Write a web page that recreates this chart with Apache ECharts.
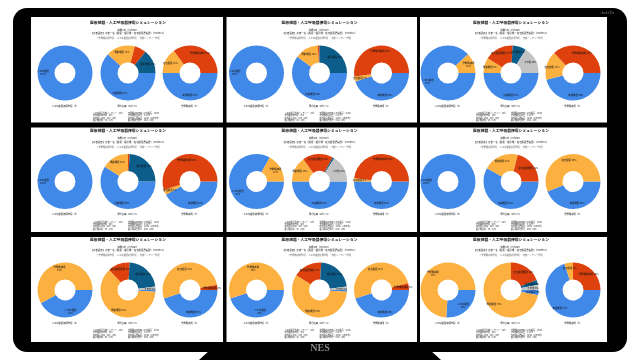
<!DOCTYPE html>
<html><head><meta charset="utf-8">
<script src="https://cdn.jsdelivr.net/npm/echarts@6/dist/echarts.min.js"></script>
<style>html,body{margin:0;padding:0;background:#fff}#c{width:640px;height:360px}</style>
</head><body><div id="c"></div>
<script>
// ---- data ----
const panelTitle = '医療機器・人工呼吸器停電シミュレーション';
const subTitle1 = '停電1日（72hour）';
const subTitle2 = '【患者設定】患者一名（酸素・吸引機・在宅酸素濃縮器）（Mode=1）';
const subTitle3 = '※発電機使用時間 ／ 人工呼吸器使用時間 ／ 外部バッテリー時間';
const donut1Names = ['人工呼吸器', '発電機使用'];
const donut2Names = ['呼吸機器', '電動機器', '在宅酸素機器', '吸引機器', 'その他'];
const donut3Names = ['稼働機器', '在宅酸素', '発電機能使用'];
const captions = ['人工呼吸器使用時間（h）', '電力比率（Wh / %）', '発電機使用（h）'];
const footLeft = ['人工呼吸器外部バッテリー：24h', '発電機使用時間：48h', '在宅酸素使用：24h（1日）', '吸引機使用：3h（1日）'];
const footRight = ['発電機使用時の人工呼吸器：100W', '発電機燃料消費：0.6L/h', '在宅酸素濃縮器：120W（1日平均）', '吸引機消費電力：60W（1日）'];
const donut1Values = [[100,0],[100,0],[88,12],[100,0],[83,17],[100,0],[42,58],[45,55],[26,74]];
const donut2Values = [
  [62,17,7,14,0],
  [60,14,1,25,0],
  [50,9,17,8,16],
  [59,16,1,24,0],
  [50,15,18,1,16],
  [58,21,21,0,0],
  [1,62,13,22,2],
  [1,58,17,22,2],
  [3,72,19,3,3]
];
const donut3Values = [[50,15,35],[45,3,52],[46,17,37],[42,3,55],[50,2,48],[44,56,0],[45,52,3],[45,51,4],[70,5,25]];

// ---- styling / layout ----
const C = ['#4189E9', '#FCB040', '#DE410E', '#0C5D8A', '#C3C3C3'];
const FONT = '"Noto Sans CJK JP", "Noto Sans", sans-serif';
const colsBox = [[31,223],[226.5,417],[420,607]];
const rowsBox = [[17,122.5],[127.5,232],[237,342]];
const originX = [31, 222.5, 414];
const originY = [17, 125.5, 234];
const donutRelX = [34, 97, 159];
const donutRelY = 56;

const graphic = [];
graphic.push({type:'rect', z:0, shape:{x:13,y:8,width:614,height:344,r:14}, style:{fill:'#000'}});
graphic.push({type:'polygon', z:0, shape:{points:[[210,350],[430,350],[441,360],[199,360]]}, style:{fill:'#000'}});
graphic.push({type:'text', z:1, style:{text:'NES', x:320, y:348, textAlign:'center', textVerticalAlign:'middle', font:'bold 10px "Liberation Serif", serif', fill:'#8a8a8a'}});
graphic.push({type:'text', z:1, style:{text:'AnkiTa', x:614, y:13, textAlign:'right', textVerticalAlign:'middle', font:'italic 5px "Liberation Serif", serif', fill:'#777'}});

const series = [];
function pieSeries(cx, cy, names, vals, fmt) {
  const data = [];
  vals.forEach((v, i) => {
    if (v > 0) data.push({name: names[i], value: v, itemStyle: {color: C[i]}, label: {show: v >= 2}});
  });
  return {
    type: 'pie', z: 3, center: [cx, cy], radius: [10.5, 27.5],
    startAngle: 0, clockwise: true, silent: true, animation: false,
    label: {position: 'inside', fontSize: 2.4, color: '#111', fontFamily: FONT, lineHeight: 3, formatter: fmt},
    labelLine: {show: false},
    data: data
  };
}

for (let r = 0; r < 3; r++) {
  for (let c = 0; c < 3; c++) {
    const p = r * 3 + c;
    graphic.push({type:'rect', z:1, shape:{x:colsBox[c][0], y:rowsBox[r][0], width:colsBox[c][1]-colsBox[c][0], height:rowsBox[r][1]-rowsBox[r][0]}, style:{fill:'#fff'}});
    const ox = originX[c], oy = originY[r];
    const tx = ox + 97;
    graphic.push({type:'text', z:2, style:{text:panelTitle, x:tx, y:oy+5.3, textAlign:'center', textVerticalAlign:'middle', font:'bold 3.8px ' + FONT, fill:'#222'}});
    graphic.push({type:'text', z:2, style:{text:subTitle1, x:tx, y:oy+13, textAlign:'center', textVerticalAlign:'middle', font:'2.4px ' + FONT, fill:'#222'}});
    graphic.push({type:'text', z:2, style:{text:subTitle2, x:tx, y:oy+16.3, textAlign:'center', textVerticalAlign:'middle', font:'2.4px ' + FONT, fill:'#222'}});
    graphic.push({type:'text', z:2, style:{text:subTitle3, x:tx, y:oy+21.3, textAlign:'center', textVerticalAlign:'middle', font:'2.2px ' + FONT, fill:'#666'}});
    captions.forEach((t, i) => {
      graphic.push({type:'text', z:2, style:{text:t, x:ox+donutRelX[i], y:oy+88.7, textAlign:'center', textVerticalAlign:'middle', font:'2.3px ' + FONT, fill:'#222'}});
    });
    footLeft.forEach((t, i) => {
      graphic.push({type:'text', z:2, style:{text:t, x:ox+62, y:oy+96.3+i*2.4, textAlign:'left', textVerticalAlign:'middle', font:'2px ' + FONT, fill:'#333'}});
    });
    footRight.forEach((t, i) => {
      graphic.push({type:'text', z:2, style:{text:t, x:ox+97, y:oy+96.3+i*2.4, textAlign:'left', textVerticalAlign:'middle', font:'2px ' + FONT, fill:'#333'}});
    });
    const cy = oy + donutRelY;
    series.push(pieSeries(ox+donutRelX[0], cy, donut1Names, donut1Values[p], pp => pp.name + '\n' + pp.value + '%'));
    series.push(pieSeries(ox+donutRelX[1], cy, donut2Names, donut2Values[p], pp => pp.name + ' ' + pp.value + '%'));
    series.push(pieSeries(ox+donutRelX[2], cy, donut3Names, donut3Values[p], pp => pp.name + ' ' + pp.value + '%'));
  }
}

const chart = echarts.init(document.getElementById('c'), null, {renderer:'canvas'});
chart.setOption({backgroundColor:'#fff', animation:false, graphic: graphic, series: series});
</script></body></html>
